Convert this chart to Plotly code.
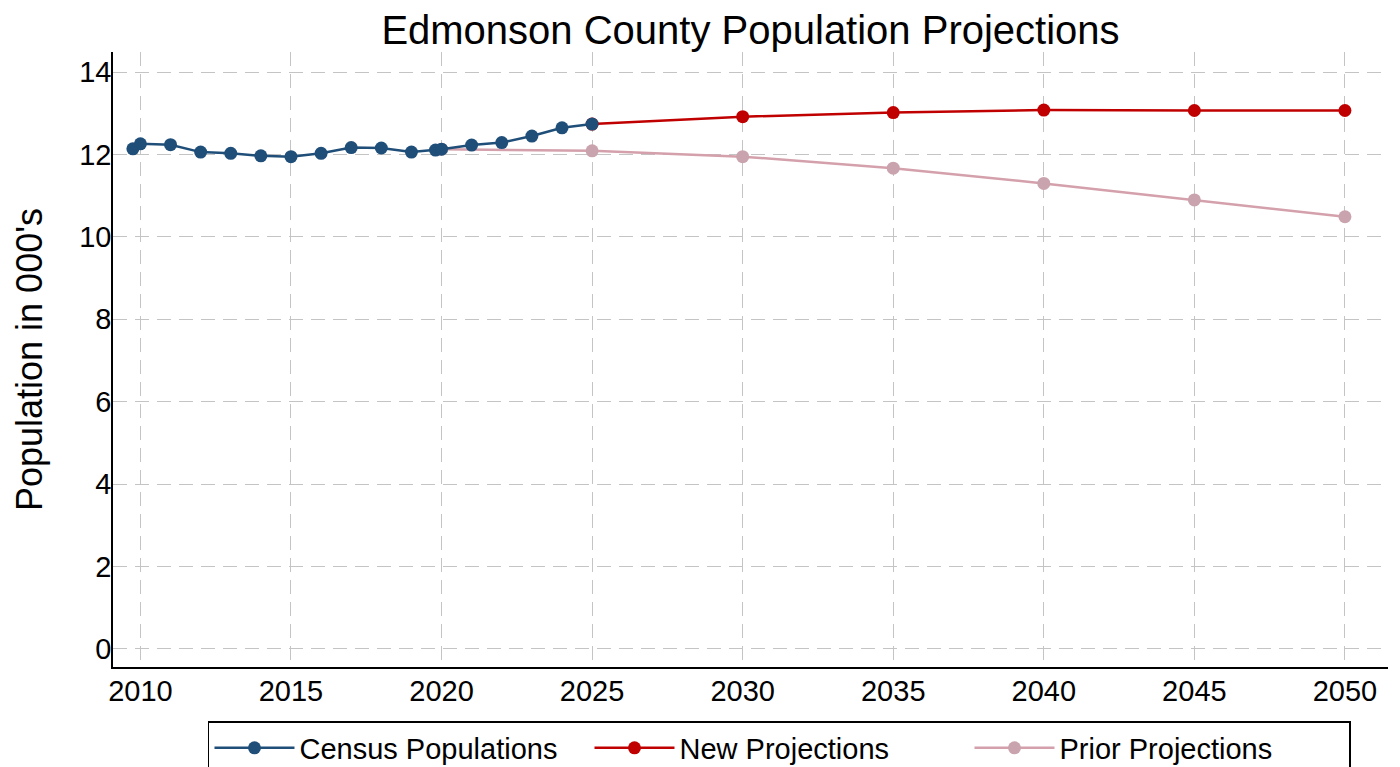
import plotly.graph_objects as go

# Census populations (thousands)
census_years = [2009.75, 2010, 2011, 2012, 2013, 2014, 2015, 2016, 2017, 2018, 2019,
                2019.8, 2020, 2021, 2022, 2023, 2024, 2025]
census_pop = [12.14, 12.26, 12.24, 12.06, 12.03, 11.97, 11.95, 12.03, 12.17, 12.16, 12.06,
              12.11, 12.13, 12.23, 12.29, 12.45, 12.65, 12.74]

# New projections
new_years = [2025, 2030, 2035, 2040, 2045, 2050]
new_pop = [12.74, 12.92, 13.02, 13.08, 13.07, 13.07]

# Prior projections
prior_years = [2020, 2025, 2030, 2035, 2040, 2045, 2050]
prior_pop = [12.13, 12.09, 11.95, 11.67, 11.30, 10.90, 10.49]

x_ticks = [2010, 2015, 2020, 2025, 2030, 2035, 2040, 2045, 2050]
y_ticks = [0, 2, 4, 6, 8, 10, 12, 14]

fig = go.Figure()

fig.add_trace(go.Scatter(
    x=prior_years, y=prior_pop, name="Prior Projections",
    mode="lines+markers",
    line=dict(color="#d4a0ab", width=2.5),
    marker=dict(color="#c9a3ad", size=13),
    legendrank=3,
))
fig.add_trace(go.Scatter(
    x=new_years, y=new_pop, name="New Projections",
    mode="lines+markers",
    line=dict(color="#c00000", width=2.5),
    marker=dict(color="#c00000", size=13),
    legendrank=2,
))
fig.add_trace(go.Scatter(
    x=census_years, y=census_pop, name="Census Populations",
    mode="lines+markers",
    line=dict(color="#1f4e79", width=2.5),
    marker=dict(color="#1f4e79", size=13),
    legendrank=1,
))

grid = dict(showgrid=True, gridcolor="#c4c4c4", griddash="14px,8px", gridwidth=1)

# page body adds an 8px offset, margins below account for it
fig.update_layout(
    width=1400, height=767,
    plot_bgcolor="white", paper_bgcolor="white",
    font=dict(family="Liberation Sans, Arial, sans-serif", color="black", size=29),
    title=dict(text="Edmonson County Population Projections", x=0.5, xref="paper",
               xanchor="center", y=0.9714, yref="container", yanchor="middle",
               font=dict(size=40, color="black")),
    margin=dict(l=105, r=20, t=44, b=108),
    xaxis=dict(range=[2009.09, 2051.43], tickvals=x_ticks, showline=True,
               linecolor="black", linewidth=1.5, zeroline=False, automargin=False,
               ticks="", ticklabelstandoff=-3, tickfont=dict(size=29), **grid),
    yaxis=dict(range=[-0.44, 14.49], tickvals=y_ticks, showline=True,
               linecolor="black", linewidth=1.5, zeroline=False, automargin=False,
               ticks="", ticklabelstandoff=-6, tickfont=dict(size=29),
               title=dict(text="Population in 000's", font=dict(size=36), standoff=26),
               **grid),
    legend=dict(orientation="h", x=0.0745, xanchor="left", y=-0.016, yref="container",
                yanchor="bottom", bordercolor="black", borderwidth=1.5,
                font=dict(size=29), itemwidth=80,
                entrywidth=285, entrywidthmode="pixels", traceorder="normal"),
    showlegend=True,
)

fig.write_html("out.html")
